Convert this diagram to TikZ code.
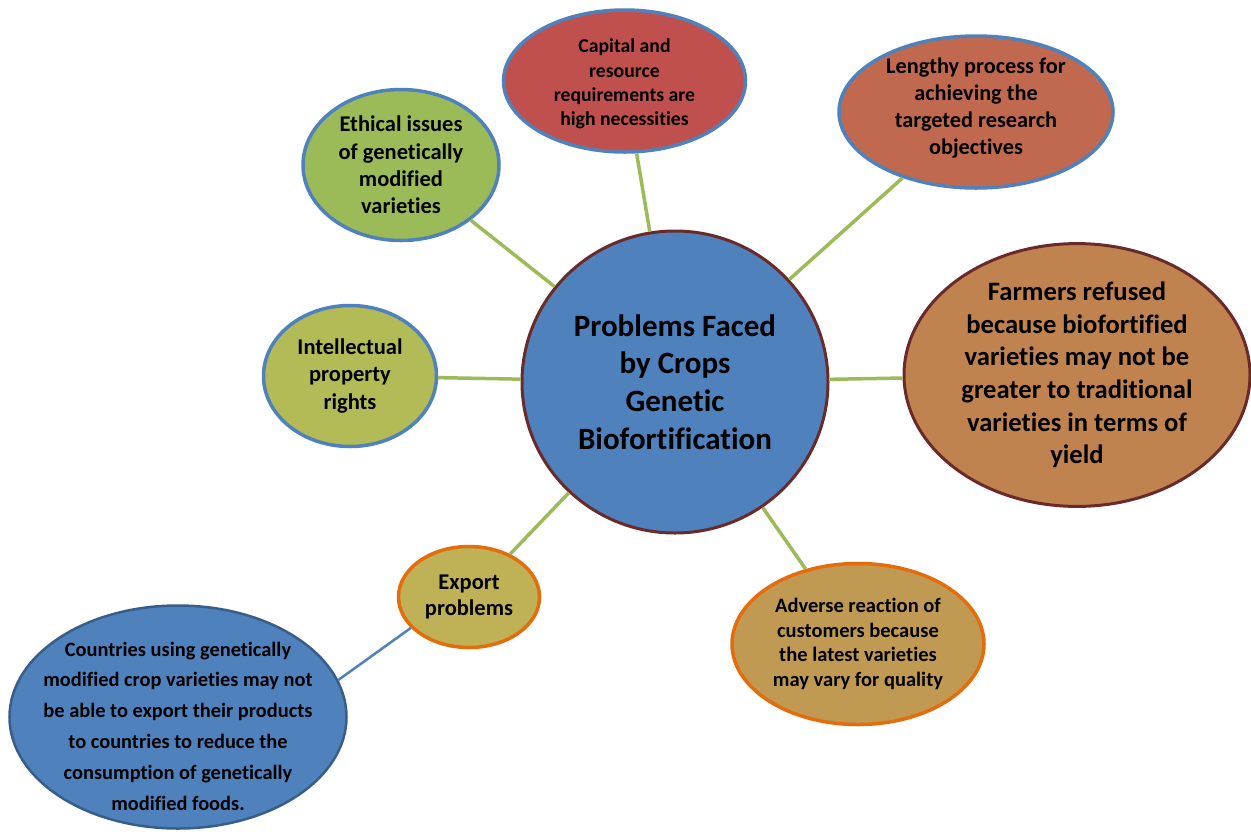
\documentclass[tikz,border=0pt]{standalone}
\usepackage{fontspec}
\setmainfont{Carlito}[Ligatures=CommonOff]
\usetikzlibrary{shapes.geometric}
\definecolor{cblue}{HTML}{4F81BD}
\definecolor{cdblue}{HTML}{385D8A}
\definecolor{cmaroon}{HTML}{6B2A2A}
\definecolor{corange}{HTML}{E46C0A}
\definecolor{cgreen}{HTML}{9BBB59}
\definecolor{fred}{HTML}{C0504D}
\definecolor{fbrick}{HTML}{C0694E}
\definecolor{folive}{HTML}{B3BB57}
\definecolor{ftan}{HTML}{C0834F}
\definecolor{fmustard}{HTML}{BFB256}
\definecolor{fochre}{HTML}{C09A52}
\tikzset{
  bub/.style={ellipse, inner sep=0pt, align=center, text=black, font=\bfseries},
  bluerim/.style={bub, draw=cblue, line width=3.5pt},
  maroonrim/.style={bub, draw=cmaroon, line width=3pt},
  orangerim/.style={bub, draw=corange, line width=3.5pt},
  link/.style={draw=cgreen, line width=3.5pt},
  bluelink/.style={draw=cblue, line width=2.5pt},
  txt/.style={align=center, text=black, inner sep=0pt},
}
\begin{document}
\begin{tikzpicture}[x=1pt,y=-1pt]
\useasboundingbox (0,0) rectangle (1251,831);
\node[maroonrim, fill=cblue, minimum width=306, minimum height=302,
  font=\bfseries\fontsize{31}{37.7}\selectfont] (ctr) at (675,382)
  {Problems Faced\\by Crops\\Genetic\\Biofortification};
\node[bluerim, fill=fred, minimum width=242, minimum height=142] (cap) at (624.5,81) {};
\node[txt, font=\bfseries\fontsize{19.7}{24.3}\selectfont] (capt) at ([yshift=-3pt]cap.center)
  {Capital and\\resource\\requirements are\\high necessities};
\node[bluerim, fill=fbrick, minimum width=274, minimum height=152] (len) at (976,112) {};
\node[txt, font=\bfseries\fontsize{22.3}{27}\selectfont] (lent) at ([yshift=4pt]len.center)
  {Lengthy process for\\achieving the\\targeted research\\objectives};
\node[bluerim, fill=cgreen, minimum width=196, minimum height=151,
  font=\bfseries\fontsize{22.5}{27.3}\selectfont] (eth) at (401,165)
  {Ethical issues\\of genetically\\modified\\varieties};
\node[bluerim, fill=folive, minimum width=173, minimum height=141,
  font=\bfseries\fontsize{22.5}{27.5}\selectfont] (ipr) at (350,376)
  {Intellectual\\property\\rights};
\node[maroonrim, fill=ftan, minimum width=346, minimum height=256,
  font=\bfseries\fontsize{26.6}{32.6}\selectfont] (far) at (1077,375)
  {Farmers refused\\because biofortified\\varieties may not be\\greater to traditional\\varieties in terms of\\yield};
\node[orangerim, fill=fmustard, minimum width=141, minimum height=101,
  font=\bfseries\fontsize{22.5}{26}\selectfont] (exp) at (469,597)
  {Export\\problems};
\node[orangerim, fill=fochre, minimum width=252, minimum height=161,
  font=\bfseries\fontsize{20.5}{24.7}\selectfont] (adv) at (858,644)
  {Adverse reaction of\\customers because\\the latest varieties\\may vary for quality};
\node[bub, draw=cdblue, line width=2.5pt, fill=cblue, minimum width=337, minimum height=223] (cty) at (178,717) {};
\node[txt, font=\bfseries\fontsize{20.4}{30.8}\selectfont] (ctyt) at ([yshift=-9pt]cty.center)
  {Countries using genetically\\modified crop varieties may not\\be able to export their products\\to countries to reduce the\\consumption of genetically\\modified foods.};
\draw[link] (cap) -- (ctr);
\draw[link] (len) -- (ctr);
\draw[link] (eth) -- (ctr);
\draw[link] (ipr) -- (ctr);
\draw[link] (far) -- (ctr);
\draw[link] (adv) -- (ctr);
\draw[link] (exp) -- (ctr);
\draw[bluelink] (cty.13) -- (exp.208);
\end{tikzpicture}
\end{document}
